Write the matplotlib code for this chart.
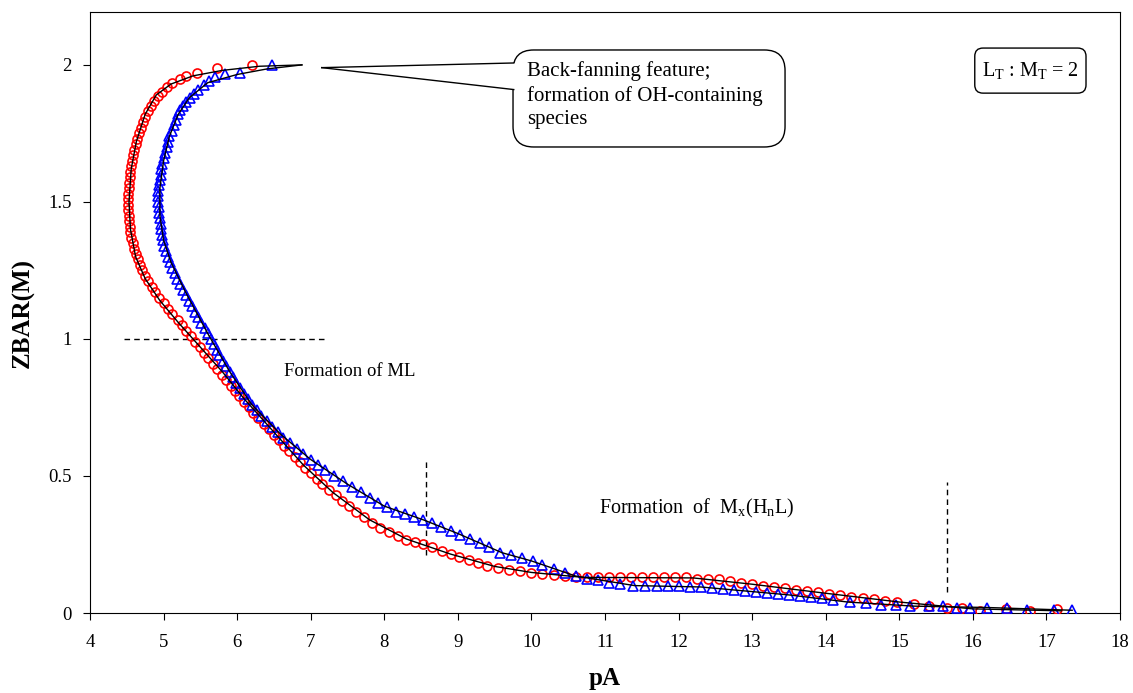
import matplotlib
matplotlib.use("Agg")
from matplotlib import pyplot as plt
from matplotlib.patches import FancyBboxPatch, Polygon

plt.rcParams['font.family'] = ['Liberation Serif', 'DejaVu Serif']
plt.rcParams['mathtext.fontset'] = 'custom'
plt.rcParams['mathtext.rm'] = 'Liberation Serif'
plt.rcParams['mathtext.it'] = 'Liberation Serif:italic'

# experimental points, series 1 (red circles)
red_pA = [6.20, 5.72, 5.45, 5.30, 5.22, 5.12, 5.05, 4.98, 4.92, 4.87, 4.83, 4.79, 4.75, 4.72, 4.69, 4.66,
          4.64, 4.62, 4.60, 4.58, 4.57, 4.56, 4.55, 4.54, 4.53, 4.53, 4.52, 4.52, 4.52, 4.52, 4.53, 4.53,
          4.54, 4.55, 4.56, 4.58, 4.60, 4.62, 4.65, 4.68, 4.71, 4.75, 4.79, 4.84, 4.89, 4.94, 5.00, 5.06,
          5.12, 5.19, 5.25, 5.31, 5.37, 5.43, 5.49, 5.55, 5.61, 5.67, 5.73, 5.79, 5.85, 5.91, 5.97, 6.03,
          6.09, 6.16, 6.22, 6.29, 6.36, 6.43, 6.50, 6.57, 6.64, 6.71, 6.78, 6.85, 6.92, 7.00, 7.08, 7.16,
          7.25, 7.34, 7.43, 7.52, 7.62, 7.72, 7.83, 7.94, 8.06, 8.18, 8.30, 8.42, 8.53, 8.65, 8.78, 8.90,
          9.02, 9.15, 9.28, 9.40, 9.55, 9.70, 9.85, 10.0, 10.15, 10.3, 10.45, 10.6, 10.75, 10.9, 11.05,
          11.2, 11.35, 11.5, 11.65, 11.8, 11.95, 12.1, 12.25, 12.4, 12.55, 12.7, 12.85, 13.0, 13.15, 13.3,
          13.45, 13.6, 13.75, 13.9, 14.05, 14.2, 14.35, 14.5, 14.65, 14.8, 14.97, 15.2, 15.4, 15.65, 15.85,
          16.1, 16.45, 16.78, 17.14]
red_z = [2.00, 1.99, 1.97, 1.96, 1.95, 1.935, 1.92, 1.90, 1.885, 1.87, 1.85, 1.83, 1.81, 1.79, 1.77, 1.75,
         1.73, 1.71, 1.69, 1.67, 1.65, 1.63, 1.61, 1.59, 1.57, 1.55, 1.53, 1.51, 1.49, 1.47, 1.45, 1.43,
         1.41, 1.39, 1.37, 1.35, 1.33, 1.31, 1.29, 1.27, 1.25, 1.23, 1.21, 1.19, 1.17, 1.15, 1.13, 1.11,
         1.09, 1.07, 1.05, 1.03, 1.01, 0.99, 0.97, 0.95, 0.93, 0.91, 0.89, 0.87, 0.85, 0.83, 0.81, 0.79,
         0.77, 0.75, 0.73, 0.71, 0.69, 0.67, 0.65, 0.63, 0.61, 0.59, 0.57, 0.55, 0.53, 0.51, 0.49, 0.47,
         0.45, 0.43, 0.41, 0.39, 0.37, 0.35, 0.33, 0.31, 0.295, 0.28, 0.268, 0.258, 0.25, 0.24, 0.228, 0.215,
         0.203, 0.192, 0.182, 0.172, 0.165, 0.158, 0.152, 0.146, 0.142, 0.138, 0.134, 0.131, 0.13, 0.13, 0.13,
         0.13, 0.13, 0.13, 0.13, 0.13, 0.13, 0.13, 0.125, 0.123, 0.123, 0.115, 0.11, 0.105, 0.10, 0.095,
         0.09, 0.085, 0.08, 0.077, 0.07, 0.065, 0.06, 0.055, 0.05, 0.045, 0.04, 0.032, 0.025, 0.018, 0.02,
         0.008, 0.014, 0.008, 0.014]

# experimental points, series 2 (blue triangles)
blue_pA = [6.47, 6.04, 5.84, 5.70, 5.62, 5.55, 5.47, 5.41, 5.36, 5.31, 5.27, 5.23, 5.20, 5.17, 5.14, 5.11,
           5.08, 5.06, 5.04, 5.02, 5.00, 4.98, 4.97, 4.96, 4.95, 4.94, 4.93, 4.93, 4.93, 4.94, 4.94, 4.95,
           4.96, 4.97, 4.98, 4.99, 5.01, 5.03, 5.06, 5.09, 5.12, 5.15, 5.18, 5.22, 5.26, 5.30, 5.34, 5.38,
           5.43, 5.47, 5.51, 5.56, 5.60, 5.64, 5.68, 5.72, 5.76, 5.81, 5.85, 5.90, 5.94, 5.99, 6.04, 6.09,
           6.15, 6.20, 6.27, 6.33, 6.40, 6.47, 6.55, 6.63, 6.72, 6.81, 6.90, 7.00, 7.10, 7.20, 7.32, 7.44,
           7.56, 7.68, 7.80, 7.92, 8.04, 8.16, 8.28, 8.40, 8.53, 8.65, 8.77, 8.90, 9.03, 9.16, 9.30, 9.43,
           9.57, 9.72, 9.87, 10.02, 10.15, 10.3, 10.45, 10.6, 10.75, 10.9, 11.05, 11.2, 11.38, 11.55, 11.7,
           11.85, 12.0, 12.15, 12.3, 12.45, 12.6, 12.75, 12.9, 13.05, 13.2, 13.35, 13.5, 13.65, 13.8, 13.95,
           14.1, 14.33, 14.55, 14.75, 14.95, 15.15, 15.4, 15.6, 15.78, 15.96, 16.19, 16.47, 16.74, 17.1, 17.35]
blue_z = [2.00, 1.97, 1.965, 1.955, 1.94, 1.925, 1.91, 1.895, 1.88, 1.865, 1.85, 1.835, 1.82, 1.80, 1.78, 1.76,
          1.74, 1.72, 1.70, 1.68, 1.66, 1.64, 1.62, 1.60, 1.58, 1.56, 1.54, 1.52, 1.50, 1.48, 1.46, 1.44,
          1.42, 1.40, 1.38, 1.36, 1.34, 1.32, 1.30, 1.28, 1.26, 1.24, 1.22, 1.20, 1.18, 1.16, 1.14, 1.12,
          1.10, 1.08, 1.06, 1.04, 1.02, 1.00, 0.98, 0.96, 0.94, 0.92, 0.90, 0.88, 0.86, 0.84, 0.82, 0.80,
          0.78, 0.76, 0.74, 0.72, 0.70, 0.68, 0.66, 0.64, 0.62, 0.60, 0.58, 0.56, 0.54, 0.52, 0.50, 0.48,
          0.46, 0.44, 0.42, 0.40, 0.385, 0.37, 0.36, 0.35, 0.34, 0.33, 0.315, 0.30, 0.285, 0.27, 0.255, 0.24,
          0.22, 0.21, 0.20, 0.19, 0.175, 0.16, 0.145, 0.135, 0.125, 0.12, 0.11, 0.105, 0.10, 0.098, 0.098,
          0.098, 0.098, 0.096, 0.095, 0.09, 0.087, 0.085, 0.08, 0.077, 0.073, 0.07, 0.066, 0.062, 0.058, 0.053,
          0.048, 0.04, 0.035, 0.03, 0.028, 0.025, 0.025, 0.025, 0.02, 0.02, 0.02, 0.017, 0.01, 0.01, 0.01]

# calculated curves (black lines)
fit1_pA = [6.88, 6.3, 5.8, 5.4, 5.1, 4.9, 4.75, 4.63, 4.56, 4.53, 4.55, 4.62, 4.75, 4.95, 5.2, 5.5, 5.8,
           6.1, 6.5, 6.9, 7.3, 7.8, 8.3, 8.9, 9.5, 10.0, 10.7, 12.2, 13.0, 14.0, 15.0, 16.0, 17.2]
fit1_z = [2.0, 1.995, 1.98, 1.96, 1.93, 1.89, 1.82, 1.72, 1.62, 1.5, 1.4, 1.3, 1.22, 1.14, 1.06, 0.97, 0.88,
          0.78, 0.66, 0.54, 0.44, 0.34, 0.27, 0.215, 0.17, 0.148, 0.13, 0.128, 0.105, 0.072, 0.04, 0.015, 0.008]
fit2_pA = [6.88, 6.4, 6.0, 5.6, 5.35, 5.2, 5.08, 5.0, 4.95, 4.95, 5.0, 5.1, 5.3, 5.6, 5.9, 6.2, 6.6, 7.0,
           7.5, 8.0, 8.53, 9.0, 9.6, 10.0, 10.6, 11.4, 12.3, 13.5, 14.3, 15.2, 16.2, 17.35]
fit2_z = [2.0, 1.985, 1.965, 1.935, 1.88, 1.82, 1.74, 1.65, 1.55, 1.45, 1.36, 1.28, 1.17, 1.02, 0.88, 0.76,
          0.65, 0.56, 0.47, 0.39, 0.34, 0.29, 0.22, 0.19, 0.135, 0.10, 0.095, 0.066, 0.04, 0.025, 0.02, 0.01]

fig = plt.figure(figsize=(11.33, 6.93), dpi=100)
ax = fig.add_axes([90 / 1133, 1 - 613 / 693, 1030 / 1133, 601 / 693])

ax.plot(red_pA, red_z, 'o', mfc='none', mec='red', ms=6.5, mew=1.2, zorder=3)
ax.plot(blue_pA, blue_z, '^', mfc='none', mec='blue', ms=6.5, mew=1.2, zorder=3)
ax.plot(fit1_pA, fit1_z, '-', color='black', lw=1, zorder=4)
ax.plot(fit2_pA, fit2_z, '-', color='black', lw=1, zorder=4)

# dashed region markers
ax.plot([4.46, 7.21], [1.0, 1.0], color='black', lw=1, ls=(0, (4, 3)))
ax.plot([8.57, 8.57], [0.21, 0.566], color='black', lw=1, ls=(0, (4, 3)))
ax.plot([15.65, 15.65], [0.077, 0.478], color='black', lw=1, ls=(0, (4, 3)))

ax.text(6.64, 0.88, 'Formation of ML', fontsize=13.5, va='center', ha='left')
ax.text(10.92, 0.38, r'Formation  of  M$_\mathrm{x}$(H$_\mathrm{n}$L)', fontsize=14.5, va='center', ha='left')

# callout bubble
asp = 1030 / 601
bubble = FancyBboxPatch((0.4107, 0.7754), 0.2641, 0.1614,
                        boxstyle='round,pad=0,rounding_size=0.02', mutation_aspect=asp,
                        transform=ax.transAxes, fc='white', ec='black', lw=1, zorder=5)
ax.add_patch(bubble)
ax.add_patch(Polygon([[9.80, 2.007], [7.15, 1.99], [9.80, 1.91]], closed=True, fc='white', ec='none', zorder=6))
ax.plot([7.15, 9.76], [1.99, 2.007], color='black', lw=1, zorder=7)
ax.plot([7.15, 9.76], [1.99, 1.91], color='black', lw=1, zorder=7)
ax.text(9.94, 1.89, 'Back-fanning feature;\nformation of OH-containing\nspecies', fontsize=15,
        va='center', ha='left', linespacing=1.3, zorder=8)

# ratio box
ratio = FancyBboxPatch((0.859, 0.865), 0.108, 0.075,
                       boxstyle='round,pad=0,rounding_size=0.008', mutation_aspect=asp,
                       transform=ax.transAxes, fc='white', ec='black', lw=1, zorder=5)
ax.add_patch(ratio)
ax.text(0.913, 0.9025, r'L$_\mathrm{T}$ : M$_\mathrm{T}$ = 2', transform=ax.transAxes, fontsize=14.5,
        ha='center', va='center', zorder=8)

ax.set_xlim(4, 18)
ax.set_ylim(0, 2.193)
ax.set_xticks(range(4, 19))
ax.set_yticks([0, 0.5, 1, 1.5, 2])
ax.set_yticklabels(['0', '0.5', '1', '1.5', '2'])
ax.tick_params(direction='out', length=5, labelsize=13.5, top=False, right=False)
ax.tick_params(axis='x', pad=10)
ax.tick_params(axis='y', pad=8)
ax.set_xlabel('pA', fontsize=18, fontweight='bold', labelpad=12)
ax.set_ylabel('ZBAR(M)', fontsize=18, fontweight='bold', labelpad=10)

plt.savefig('out.png', dpi=100)
